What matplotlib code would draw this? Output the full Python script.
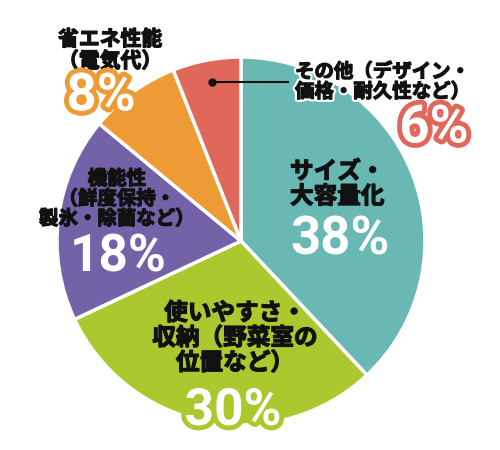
import matplotlib.pyplot as plt
import matplotlib.patheffects as pe

plt.rcParams['font.family'] = ['Noto Sans CJK JP', 'DejaVu Sans']

# データ
labels = ['サイズ・\n大容量化', '使いやすさ・\n収納（野菜室の\n位置など）',
          '機能性\n（鮮度保持・\n製氷・除菌など）', '省エネ性能\n（電気代）',
          'その他（デザイン・\n価格・耐久性など）']
values = [38, 30, 18, 8, 6]
colors = ['#69b8b3', '#abc92f', '#7462a8', '#ee9a35', '#e0685b']

W, H = 500, 450


def py(y):
    # 画像のピクセル座標(上から)をデータ座標へ
    return H - y


fig = plt.figure(figsize=(5, 4.5), dpi=100)
ax = fig.add_axes([0, 0, 1, 1])

ax.pie(values, colors=colors, startangle=90, counterclock=False,
       center=(241, py(241)), radius=184, frame=True,
       wedgeprops=dict(edgecolor='white', linewidth=2.5))
ax.set_xlim(0, W)
ax.set_ylim(0, H)
ax.set_aspect('equal')
ax.axis('off')

# 文字を太く見せる
thick = [pe.Stroke(linewidth=0.9, foreground='#111111'), pe.Normal()]
glow = [pe.Stroke(linewidth=4, foreground='white'),
        pe.Stroke(linewidth=0.9, foreground='#111111'), pe.Normal()]
lab_kw = dict(color='#111111', fontweight='bold', linespacing=1.05)
num_font = dict(family=['Roboto', 'DejaVu Sans'], fontweight='bold')


def outlined(c):
    return [pe.withStroke(linewidth=7, foreground=c)]


# サイズ・大容量化
ax.text(290, py(184), labels[0], fontsize=17, ha='left', va='center',
        path_effects=thick, **lab_kw)
ax.text(340, py(240), f'{values[0]}%', fontsize=38, color='white',
        ha='center', va='center', **num_font)

# 使いやすさ・収納
ax.text(235, py(338), labels[1], fontsize=17, ha='center', va='center',
        path_effects=thick, **lab_kw)
ax.text(233, py(411), f'{values[1]}%', fontsize=37, color='white',
        ha='center', va='center', **num_font, path_effects=outlined(colors[1]))

# 機能性
ax.text(117, py(199), labels[2], fontsize=14, ha='center', va='center',
        path_effects=thick, **lab_kw)
ax.text(118, py(257), f'{values[2]}%', fontsize=37, color='white',
        ha='center', va='center', **num_font)

# 省エネ性能
ax.text(58, py(50), labels[3], fontsize=15, ha='left', va='center',
        path_effects=thick, **lab_kw)
ax.text(101, py(96), f'{values[3]}%', fontsize=38, color='white',
        ha='center', va='center', **num_font, path_effects=outlined(colors[3]))

# その他
ax.text(295, py(82), labels[4], fontsize=14, ha='left', va='center',
        path_effects=glow, **lab_kw)
ax.text(434, py(128), f'{values[4]}%', fontsize=38, color='white',
        ha='center', va='center', **num_font, path_effects=outlined(colors[4]))

# 引き出し線
ax.plot([212, 288], [py(82), py(82)], color='#111111', lw=1.5)
ax.plot(212, py(82), 'o', color='#111111', ms=5)

fig.savefig('out.png', dpi=100)
